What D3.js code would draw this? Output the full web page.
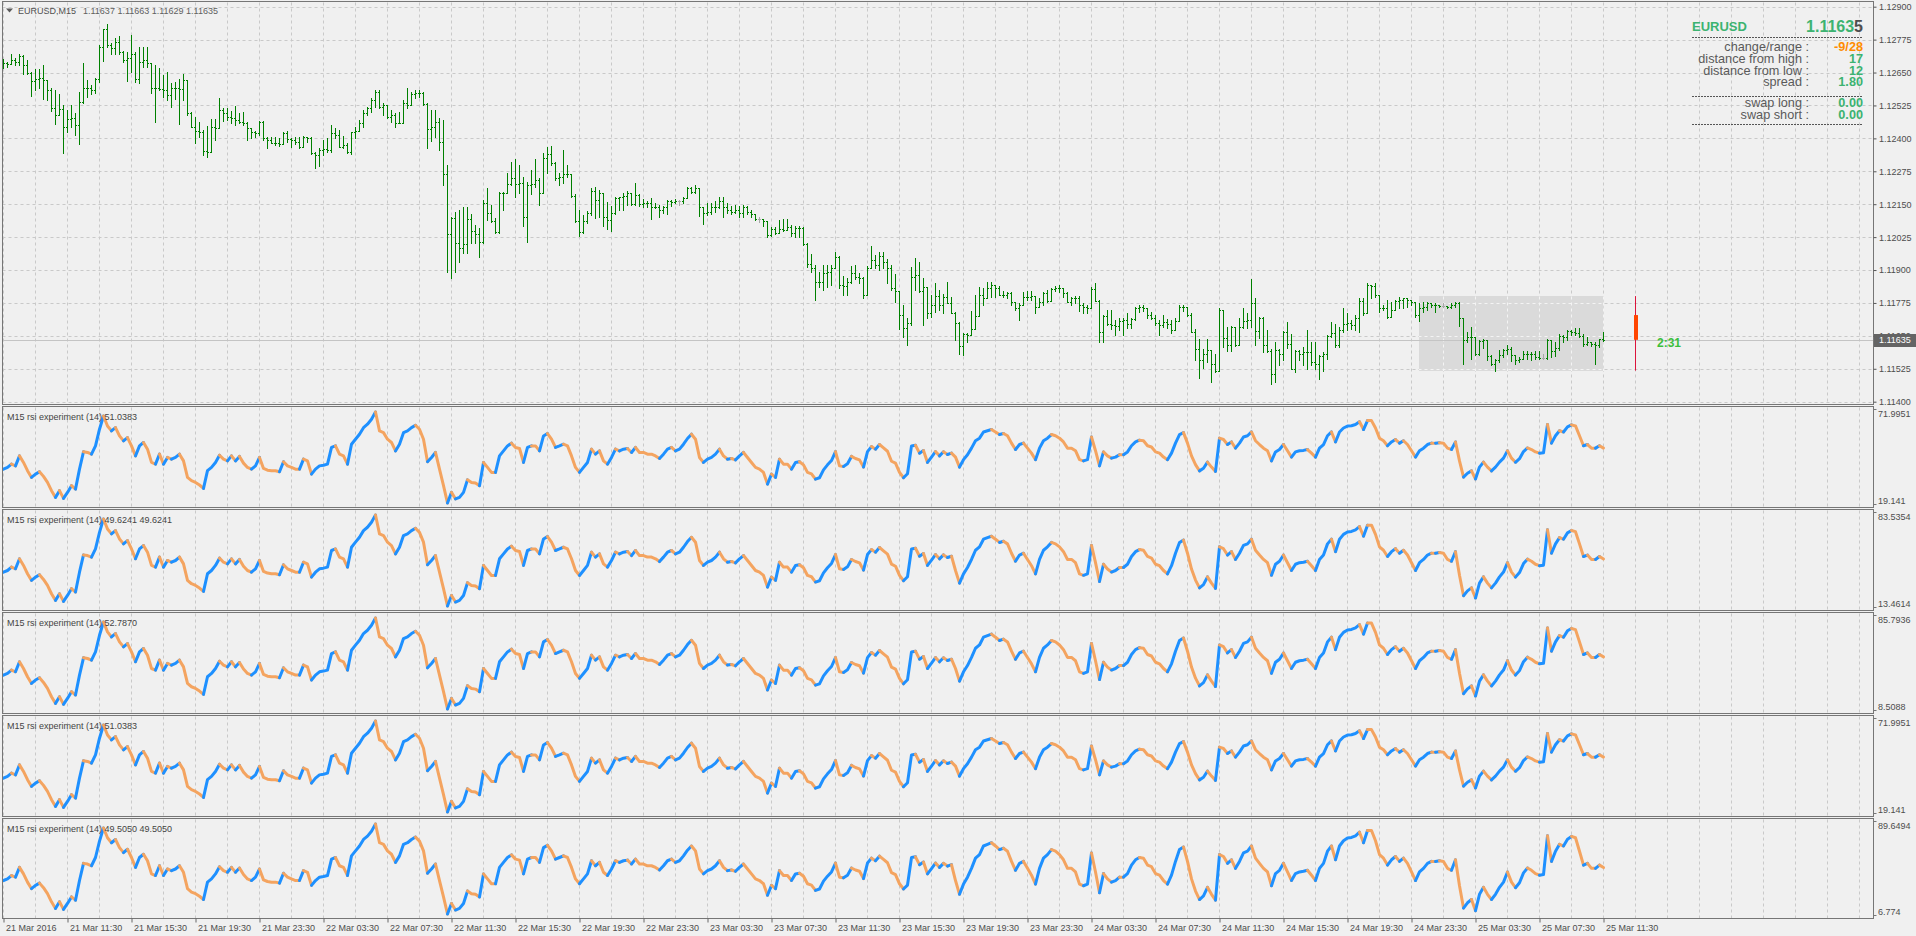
<!DOCTYPE html>
<html><head><meta charset="utf-8">
<script src="https://cdn.jsdelivr.net/npm/d3@7/dist/d3.min.js"></script>
<style>
html,body{margin:0;padding:0;background:#f0f0f0;overflow:hidden}
svg{display:block}
text{font-family:"Liberation Sans",Arial,sans-serif}
</style></head><body>
<svg id="chart" width="1916" height="936"></svg>
<script>
// ---------------- DATA ----------------
const barOpen = [
1.12690,1.12685,1.12682,1.12697,1.12691,1.12712,1.12678,1.12647,1.12619,1.12624,
1.12628,1.12621,1.12583,1.12517,1.12488,1.12510,1.12444,1.12472,1.12479,1.12450,
1.12539,1.12593,1.12590,1.12583,1.12626,1.12748,1.12814,1.12754,1.12745,1.12767,
1.12729,1.12697,1.12704,1.12722,1.12624,1.12691,1.12697,1.12685,1.12593,1.12590,
1.12588,1.12583,1.12564,1.12593,1.12590,1.12586,1.12621,1.12495,1.12444,1.12429,
1.12425,1.12353,1.12350,1.12444,1.12438,1.12507,1.12497,1.12482,1.12476,1.12469,
1.12463,1.12457,1.12438,1.12425,1.12419,1.12463,1.12400,1.12393,1.12383,1.12381,
1.12378,1.12419,1.12396,1.12393,1.12387,1.12368,1.12404,1.12400,1.12343,1.12336,
1.12355,1.12358,1.12355,1.12419,1.12412,1.12368,1.12374,1.12349,1.12425,1.12428,
1.12457,1.12495,1.12514,1.12545,1.12577,1.12520,1.12526,1.12482,1.12488,1.12457,
1.12459,1.12533,1.12526,1.12568,1.12571,1.12573,1.12530,1.12434,1.12442,1.12463,
1.12387,1.12264,1.12036,1.12096,1.12004,1.11982,1.11999,1.12092,1.12048,1.12036,
1.12007,1.12153,1.12115,1.12086,1.12043,1.12191,1.12193,1.12226,1.12248,1.12225,
1.12231,1.12102,1.12223,1.12226,1.12242,1.12193,1.12324,1.12340,1.12305,1.12248,
1.12254,1.12264,1.12263,1.12181,1.12087,1.12045,1.12087,1.12115,1.12201,1.12166,
1.12191,1.12102,1.12090,1.12115,1.12172,1.12176,1.12181,1.12191,1.12150,1.12185,
1.12150,1.12155,1.12153,1.12138,1.12140,1.12128,1.12140,1.12163,1.12159,1.12163,
1.12163,1.12172,1.12210,1.12197,1.12210,1.12138,1.12118,1.12121,1.12140,1.12138,
1.12163,1.12138,1.12128,1.12121,1.12128,1.12118,1.12140,1.12121,1.12112,1.12092,
1.12092,1.12087,1.12033,1.12054,1.12039,1.12054,1.12052,1.12062,1.12039,1.12058,
1.12060,1.11999,1.11923,1.11906,1.11853,1.11856,1.11887,1.11891,1.11909,1.11950,
1.11845,1.11840,1.11853,1.11887,1.11874,1.11868,1.11807,1.11909,1.11938,1.11919,
1.11954,1.11932,1.11909,1.11830,1.11820,1.11731,1.11681,1.11697,1.11875,1.11881,
1.11820,1.11837,1.11735,1.11767,1.11802,1.11769,1.11799,1.11773,1.11737,1.11697,
1.11611,1.11656,1.11653,1.11676,1.11726,1.11805,1.11792,1.11830,1.11843,1.11830,
1.11807,1.11805,1.11811,1.11780,1.11754,1.11767,1.11796,1.11799,1.11802,1.11761,
1.11777,1.11811,1.11782,1.11828,1.11833,1.11830,1.11811,1.11780,1.11792,1.11795,
1.11767,1.11761,1.11757,1.11828,1.11782,1.11666,1.11726,1.11694,1.11691,1.11688,
1.11706,1.11710,1.11694,1.11714,1.11754,1.11761,1.11754,1.11729,1.11716,1.11697,
1.11691,1.11704,1.11694,1.11672,1.11706,1.11761,1.11759,1.11731,1.11666,1.11600,
1.11558,1.11583,1.11596,1.11542,1.11516,1.11748,1.11643,1.11615,1.11685,1.11615,
1.11685,1.11706,1.11709,1.11773,1.11668,1.11719,1.11615,1.11592,1.11504,1.11596,
1.11580,1.11666,1.11621,1.11526,1.11592,1.11580,1.11590,1.11587,1.11552,1.11545,
1.11574,1.11583,1.11650,1.11659,1.11615,1.11672,1.11694,1.11697,1.11692,1.11719,
1.11782,1.11735,1.11843,1.11840,1.11807,1.11757,1.11755,1.11723,1.11748,1.11782,
1.11786,1.11792,1.11786,1.11777,1.11729,1.11754,1.11761,1.11773,1.11769,1.11767,
1.11765,1.11765,1.11761,1.11769,1.11773,1.11716,1.11634,1.11647,1.11644,1.11580,
1.11630,1.11634,1.11575,1.11545,1.11558,1.11577,1.11596,1.11602,1.11577,1.11558,
1.11564,1.11580,1.11583,1.11580,1.11571,1.11567,1.11567,1.11634,1.11592,1.11605,
1.11650,1.11647,1.11668,1.11666,1.11659,1.11650,1.11618,1.11625,1.11621,1.11615,
1.11637];
const barHigh = [
1.12700,1.12691,1.12722,1.12704,1.12720,1.12716,1.12697,1.12653,1.12662,1.12663,
1.12678,1.12621,1.12593,1.12583,1.12567,1.12526,1.12507,1.12526,1.12495,1.12577,
1.12685,1.12621,1.12602,1.12628,1.12754,1.12817,1.12836,1.12763,1.12782,1.12788,
1.12733,1.12729,1.12792,1.12729,1.12748,1.12748,1.12748,1.12685,1.12678,1.12666,
1.12640,1.12653,1.12611,1.12615,1.12624,1.12644,1.12590,1.12501,1.12482,1.12463,
1.12431,1.12447,1.12472,1.12472,1.12552,1.12514,1.12514,1.12505,1.12523,1.12497,
1.12501,1.12463,1.12438,1.12428,1.12467,1.12467,1.12406,1.12404,1.12404,1.12400,
1.12423,1.12429,1.12402,1.12404,1.12406,1.12409,1.12406,1.12404,1.12349,1.12362,
1.12393,1.12400,1.12450,1.12438,1.12431,1.12409,1.12381,1.12425,1.12444,1.12469,
1.12507,1.12520,1.12552,1.12583,1.12583,1.12533,1.12523,1.12507,1.12495,1.12501,
1.12545,1.12590,1.12577,1.12583,1.12583,1.12577,1.12533,1.12507,1.12507,1.12476,
1.12469,1.12298,1.12102,1.12121,1.12128,1.12140,1.12140,1.12112,1.12071,1.12058,
1.12166,1.12210,1.12147,1.12096,1.12197,1.12197,1.12267,1.12311,1.12320,1.12298,
1.12254,1.12235,1.12280,1.12320,1.12248,1.12343,1.12368,1.12371,1.12311,1.12267,
1.12355,1.12298,1.12264,1.12188,1.12128,1.12109,1.12125,1.12210,1.12214,1.12204,
1.12193,1.12159,1.12143,1.12178,1.12178,1.12191,1.12201,1.12193,1.12231,1.12188,
1.12168,1.12163,1.12172,1.12153,1.12147,1.12143,1.12166,1.12166,1.12168,1.12166,
1.12178,1.12216,1.12216,1.12223,1.12197,1.12140,1.12155,1.12153,1.12163,1.12178,
1.12178,1.12153,1.12143,1.12147,1.12143,1.12147,1.12143,1.12128,1.12112,1.12100,
1.12090,1.12087,1.12062,1.12062,1.12090,1.12092,1.12092,1.12071,1.12067,1.12067,
1.12064,1.12001,1.11959,1.11919,1.11894,1.11919,1.11919,1.11919,1.11967,1.11954,
1.11878,1.11868,1.11916,1.11919,1.11887,1.11875,1.11915,1.11992,1.11957,1.11970,
1.11970,1.11942,1.11921,1.11885,1.11767,1.11767,1.11716,1.11913,1.11944,1.11931,
1.11868,1.11837,1.11805,1.11849,1.11824,1.11809,1.11856,1.11799,1.11739,1.11704,
1.11659,1.11659,1.11744,1.11807,1.11837,1.11833,1.11856,1.11856,1.11837,1.11840,
1.11820,1.11818,1.11815,1.11780,1.11773,1.11815,1.11820,1.11820,1.11799,1.11792,
1.11818,1.11824,1.11833,1.11840,1.11843,1.11830,1.11815,1.11799,1.11802,1.11802,
1.11773,1.11767,1.11837,1.11849,1.11786,1.11729,1.11748,1.11748,1.11710,1.11716,
1.11716,1.11735,1.11716,1.11761,1.11767,1.11769,1.11757,1.11739,1.11729,1.11710,
1.11729,1.11714,1.11710,1.11716,1.11767,1.11767,1.11761,1.11735,1.11676,1.11640,
1.11602,1.11640,1.11596,1.11583,1.11754,1.11685,1.11685,1.11688,1.11685,1.11716,
1.11754,1.11735,1.11866,1.11792,1.11723,1.11723,1.11672,1.11602,1.11625,1.11602,
1.11668,1.11701,1.11656,1.11596,1.11596,1.11609,1.11672,1.11628,1.11625,1.11577,
1.11587,1.11653,1.11704,1.11694,1.11685,1.11757,1.11735,1.11710,1.11729,1.11792,
1.11792,1.11849,1.11845,1.11849,1.11805,1.11767,1.11786,1.11777,1.11786,1.11799,
1.11792,1.11792,1.11782,1.11780,1.11773,1.11780,1.11777,1.11773,1.11773,1.11769,
1.11773,1.11764,1.11773,1.11777,1.11777,1.11685,1.11666,1.11685,1.11647,1.11634,
1.11638,1.11634,1.11577,1.11564,1.11596,1.11602,1.11615,1.11609,1.11577,1.11571,
1.11592,1.11592,1.11587,1.11592,1.11592,1.11583,1.11640,1.11634,1.11628,1.11656,
1.11653,1.11672,1.11672,1.11678,1.11681,1.11656,1.11647,1.11628,1.11628,1.11640,
1.11663];
const barLow = [
1.12666,1.12672,1.12681,1.12678,1.12678,1.12644,1.12644,1.12562,1.12583,1.12593,
1.12548,1.12545,1.12505,1.12453,1.12488,1.12343,1.12425,1.12444,1.12412,1.12377,
1.12533,1.12558,1.12568,1.12573,1.12615,1.12693,1.12748,1.12722,1.12722,1.12720,
1.12691,1.12617,1.12653,1.12615,1.12609,1.12672,1.12672,1.12571,1.12463,1.12583,
1.12558,1.12545,1.12520,1.12550,1.12454,1.12545,1.12488,1.12442,1.12381,1.12406,
1.12336,1.12330,1.12374,1.12393,1.12467,1.12467,1.12469,1.12457,1.12450,1.12457,
1.12450,1.12393,1.12400,1.12406,1.12412,1.12393,1.12362,1.12381,1.12374,1.12371,
1.12381,1.12387,1.12368,1.12378,1.12362,1.12387,1.12387,1.12340,1.12286,1.12295,
1.12336,1.12349,1.12349,1.12400,1.12368,1.12362,1.12343,1.12340,1.12402,1.12431,
1.12444,1.12488,1.12501,1.12520,1.12514,1.12488,1.12476,1.12463,1.12444,1.12457,
1.12459,1.12514,1.12533,1.12552,1.12558,1.12526,1.12362,1.12391,1.12406,1.12355,
1.12223,1.11893,1.11868,1.11893,1.11931,1.11963,1.11963,1.12001,1.12001,1.11950,
1.12001,1.12090,1.12083,1.12039,1.12039,1.12128,1.12191,1.12223,1.12178,1.12191,
1.12067,1.12007,1.12188,1.12214,1.12147,1.12191,1.12267,1.12298,1.12242,1.12223,
1.12229,1.12254,1.12178,1.12083,1.12029,1.12042,1.12080,1.12109,1.12096,1.12100,
1.12067,1.12054,1.12049,1.12112,1.12128,1.12128,1.12147,1.12147,1.12147,1.12143,
1.12140,1.12140,1.12092,1.12134,1.12102,1.12118,1.12112,1.12143,1.12155,1.12147,
1.12153,1.12172,1.12191,1.12191,1.12105,1.12074,1.12109,1.12112,1.12121,1.12134,
1.12102,1.12115,1.12112,1.12118,1.12100,1.12102,1.12112,1.12102,1.12090,1.12083,
1.12067,1.12026,1.12029,1.12036,1.12039,1.12049,1.12058,1.12029,1.12026,1.12026,
1.11995,1.11912,1.11891,1.11786,1.11837,1.11824,1.11837,1.11845,1.11909,1.11833,
1.11805,1.11807,1.11849,1.11866,1.11849,1.11795,1.11805,1.11906,1.11906,1.11900,
1.11906,1.11849,1.11824,1.11780,1.11676,1.11647,1.11615,1.11691,1.11824,1.11818,
1.11691,1.11719,1.11723,1.11739,1.11748,1.11735,1.11773,1.11735,1.11634,1.11583,
1.11577,1.11628,1.11668,1.11723,1.11786,1.11767,1.11807,1.11799,1.11799,1.11805,
1.11799,1.11795,1.11767,1.11748,1.11710,1.11773,1.11786,1.11786,1.11735,1.11761,
1.11767,1.11777,1.11782,1.11820,1.11818,1.11799,1.11777,1.11767,1.11773,1.11744,
1.11735,1.11735,1.11754,1.11782,1.11625,1.11625,1.11691,1.11676,1.11653,1.11672,
1.11653,1.11678,1.11678,1.11710,1.11739,1.11744,1.11719,1.11714,1.11691,1.11653,
1.11685,1.11678,1.11659,1.11691,1.11719,1.11744,1.11726,1.11663,1.11558,1.11491,
1.11529,1.11549,1.11476,1.11514,1.11516,1.11609,1.11592,1.11592,1.11613,1.11672,
1.11678,1.11678,1.11685,1.11615,1.11643,1.11587,1.11587,1.11466,1.11473,1.11539,
1.11558,1.11605,1.11526,1.11514,1.11558,1.11539,1.11526,1.11539,1.11526,1.11488,
1.11516,1.11564,1.11647,1.11609,1.11609,1.11666,1.11672,1.11676,1.11672,1.11666,
1.11729,1.11773,1.11792,1.11799,1.11742,1.11748,1.11716,1.11723,1.11748,1.11754,
1.11754,1.11761,1.11767,1.11723,1.11706,1.11742,1.11748,1.11761,1.11739,1.11761,
1.11761,1.11754,1.11757,1.11761,1.11688,1.11545,1.11628,1.11564,1.11577,1.11577,
1.11605,1.11558,1.11539,1.11516,1.11552,1.11571,1.11580,1.11554,1.11545,1.11552,
1.11562,1.11564,1.11558,1.11564,1.11562,1.11564,1.11564,1.11571,1.11575,1.11596,
1.11628,1.11634,1.11653,1.11653,1.11647,1.11613,1.11615,1.11613,1.11545,1.11609,
1.11629];
const barClose = [
1.12685,1.12682,1.12697,1.12691,1.12712,1.12678,1.12647,1.12619,1.12624,1.12628,
1.12621,1.12583,1.12517,1.12488,1.12510,1.12444,1.12472,1.12479,1.12450,1.12539,
1.12593,1.12590,1.12583,1.12626,1.12748,1.12814,1.12754,1.12745,1.12767,1.12729,
1.12697,1.12704,1.12722,1.12624,1.12691,1.12697,1.12685,1.12593,1.12590,1.12588,
1.12583,1.12564,1.12593,1.12590,1.12586,1.12621,1.12495,1.12444,1.12429,1.12425,
1.12353,1.12350,1.12444,1.12438,1.12507,1.12497,1.12482,1.12476,1.12469,1.12463,
1.12457,1.12438,1.12425,1.12419,1.12463,1.12400,1.12393,1.12383,1.12381,1.12378,
1.12419,1.12396,1.12393,1.12387,1.12368,1.12404,1.12400,1.12343,1.12336,1.12355,
1.12358,1.12355,1.12419,1.12412,1.12368,1.12374,1.12349,1.12425,1.12428,1.12457,
1.12495,1.12514,1.12545,1.12577,1.12520,1.12526,1.12482,1.12488,1.12457,1.12459,
1.12533,1.12526,1.12568,1.12571,1.12573,1.12530,1.12434,1.12442,1.12463,1.12387,
1.12264,1.12036,1.12096,1.12004,1.11982,1.11999,1.12092,1.12048,1.12036,1.12007,
1.12153,1.12115,1.12086,1.12043,1.12191,1.12193,1.12226,1.12248,1.12225,1.12231,
1.12102,1.12223,1.12226,1.12242,1.12193,1.12324,1.12340,1.12305,1.12248,1.12254,
1.12264,1.12263,1.12181,1.12087,1.12045,1.12087,1.12115,1.12201,1.12166,1.12191,
1.12102,1.12090,1.12115,1.12172,1.12176,1.12181,1.12191,1.12150,1.12185,1.12150,
1.12155,1.12153,1.12138,1.12140,1.12128,1.12140,1.12163,1.12159,1.12163,1.12163,
1.12172,1.12210,1.12197,1.12210,1.12138,1.12118,1.12121,1.12140,1.12138,1.12163,
1.12138,1.12128,1.12121,1.12128,1.12118,1.12140,1.12121,1.12112,1.12092,1.12092,
1.12087,1.12033,1.12054,1.12039,1.12054,1.12052,1.12062,1.12039,1.12058,1.12060,
1.11999,1.11923,1.11906,1.11853,1.11856,1.11887,1.11891,1.11909,1.11950,1.11845,
1.11840,1.11853,1.11887,1.11874,1.11868,1.11807,1.11909,1.11938,1.11919,1.11954,
1.11932,1.11909,1.11830,1.11820,1.11731,1.11681,1.11697,1.11875,1.11881,1.11820,
1.11837,1.11735,1.11767,1.11802,1.11769,1.11799,1.11773,1.11737,1.11697,1.11611,
1.11656,1.11653,1.11676,1.11726,1.11805,1.11792,1.11830,1.11843,1.11830,1.11807,
1.11805,1.11811,1.11780,1.11754,1.11767,1.11796,1.11799,1.11802,1.11761,1.11777,
1.11811,1.11782,1.11828,1.11833,1.11830,1.11811,1.11780,1.11792,1.11795,1.11767,
1.11761,1.11757,1.11828,1.11782,1.11666,1.11726,1.11694,1.11691,1.11688,1.11706,
1.11710,1.11694,1.11714,1.11754,1.11761,1.11754,1.11729,1.11716,1.11697,1.11691,
1.11704,1.11694,1.11672,1.11706,1.11761,1.11759,1.11731,1.11666,1.11600,1.11558,
1.11583,1.11596,1.11542,1.11516,1.11748,1.11643,1.11615,1.11685,1.11615,1.11685,
1.11706,1.11709,1.11773,1.11668,1.11719,1.11615,1.11592,1.11504,1.11596,1.11580,
1.11666,1.11621,1.11526,1.11592,1.11580,1.11590,1.11587,1.11552,1.11545,1.11574,
1.11583,1.11650,1.11659,1.11615,1.11672,1.11694,1.11697,1.11692,1.11719,1.11782,
1.11735,1.11843,1.11840,1.11807,1.11757,1.11755,1.11723,1.11748,1.11782,1.11786,
1.11792,1.11786,1.11777,1.11729,1.11754,1.11761,1.11773,1.11769,1.11767,1.11765,
1.11765,1.11761,1.11769,1.11773,1.11716,1.11634,1.11647,1.11644,1.11580,1.11630,
1.11634,1.11575,1.11545,1.11558,1.11577,1.11596,1.11602,1.11577,1.11558,1.11564,
1.11580,1.11583,1.11580,1.11571,1.11567,1.11567,1.11634,1.11592,1.11605,1.11650,
1.11647,1.11668,1.11666,1.11659,1.11650,1.11618,1.11625,1.11621,1.11615,1.11638,
1.11635];

// RSI panel 1 (and identical panel 4)
const rsiA = [
38.8,39.8,41.7,40.7,46.5,42.7,37.9,34.0,35.9,37.3,
34.6,31.1,26.3,22.4,26.3,21.8,25.3,29.2,27.2,38.8,
48.9,48.5,47.5,52.3,62.0,69.7,63.9,61.0,62.9,58.1,
55.2,57.1,52.3,46.5,52.3,54.3,50.4,42.7,41.7,47.5,
41.7,45.6,44.6,45.6,47.5,43.6,34.0,32.1,31.1,29.6,
27.6,37.9,39.8,42.7,46.9,44.6,43.6,46.5,43.6,46.2,
42.3,39.8,38.8,40.7,45.6,39.2,38.2,37.9,37.9,37.3,
43.1,40.7,39.8,38.8,38.8,44.6,43.6,35.9,38.8,40.7,
41.1,41.7,51.4,52.3,47.5,46.5,41.7,53.3,56.2,59.1,
62.9,64.9,67.8,71.9951,61.0,60.0,56.2,54.3,49.4,53.3,
60.0,61.0,62.9,64.3,62.0,56.2,43.1,45.6,48.5,38.8,
29.2,19.141,25.3,21.5,22.4,25.3,32.6,31.1,30.7,29.2,
42.7,39.8,36.9,36.9,46.5,49.4,52.3,53.9,51.4,50.8,
42.7,51.4,52.3,52.3,49.4,58.1,59.5,56.2,51.4,52.3,
53.3,52.3,46.5,39.8,36.9,39.8,42.7,50.4,47.5,49.4,
43.6,41.7,45.6,50.4,49.4,50.4,50.8,48.5,51.4,48.5,
48.5,47.5,47.5,46.5,45.0,47.5,50.4,51.4,49.4,50.4,
53.3,56.6,59.1,56.2,45.6,42.7,44.6,45.6,47.5,50.4,
46.5,44.6,45.0,44.2,46.5,48.5,45.6,42.7,39.8,38.8,
36.9,30.1,35.9,34.0,44.6,41.7,41.7,38.8,42.7,43.1,
41.3,36.9,36.1,33.0,33.8,38.4,41.3,43.8,49.0,40.7,
40.4,41.9,46.2,45.0,44.2,40.0,49.0,51.9,50.4,53.1,
51.2,49.2,43.4,42.3,36.9,33.8,36.1,52.3,52.7,48.1,
49.6,42.7,45.8,49.0,46.5,48.9,47.3,48.1,45.8,40.0,
44.3,47.2,51.0,55.3,56.8,60.4,61.1,61.8,60.4,58.9,
59.5,58.2,53.9,50.2,53.1,53.9,51.0,48.1,44.3,51.0,
55.3,56.8,58.9,58.2,56.8,54.6,51.0,51.0,49.5,44.3,
43.6,44.3,57.5,49.5,40.7,48.8,46.5,45.2,45.8,47.2,
47.2,48.8,52.4,54.6,55.6,55.3,52.4,51.7,48.8,48.1,
45.8,44.3,48.1,53.9,58.9,60.0,53.9,46.5,41.4,37.8,
39.3,42.9,40.0,37.5,56.8,56.0,53.1,54.6,51.0,53.9,
57.5,58.2,60.4,55.3,53.1,51.0,49.5,43.6,48.8,50.2,
53.1,49.5,45.8,48.8,49.5,49.7,50.2,48.1,45.8,51.0,
53.1,58.2,60.4,54.6,60.4,62.7,63.8,64.0,64.7,66.3,
61.8,67.0,67.0,62.7,56.8,55.3,52.4,54.6,56.0,53.9,
55.3,53.1,49.5,45.8,49.5,51.0,53.1,53.9,53.9,54.2,
53.9,51.0,50.2,54.6,43.6,34.2,36.4,37.8,33.1,40.0,
42.9,40.0,37.8,40.0,42.9,45.2,49.5,45.2,42.8,44.9,
49.0,51.1,50.2,48.8,48.1,48.3,64.7,53.9,58.2,61.1,
60.4,63.4,64.5,63.9,58.2,52.4,53.1,51.0,51.0,52.4,
51.0383];
const rsiB = [
39.5,40.8,43.4,42.1,49.8,44.7,38.3,33.2,35.7,37.5,
33.9,29.3,22.9,17.8,22.9,17.0,21.6,26.8,24.2,39.5,
52.8,52.3,51.1,57.4,70.2,80.5,72.8,69.0,71.5,65.1,
61.3,63.8,57.4,49.8,57.4,60.0,54.9,44.7,43.4,51.1,
43.4,48.5,47.2,48.5,51.1,45.9,33.2,30.6,29.3,27.3,
24.7,38.3,40.8,44.7,50.3,47.2,45.9,49.8,45.9,49.3,
44.1,40.8,39.5,42.1,48.5,40.1,38.8,38.3,38.3,37.5,
45.2,42.1,40.8,39.5,39.5,47.2,45.9,35.7,39.5,42.1,
42.6,43.4,56.2,57.4,51.1,49.8,43.4,58.7,62.6,66.4,
71.5,74.1,77.9,83.5354,69.0,67.7,62.6,60.0,53.6,58.7,
67.7,69.0,71.5,73.3,70.2,62.6,45.2,48.5,52.3,39.5,
26.8,13.4614,21.6,16.5,17.8,21.6,31.4,29.3,28.8,26.8,
44.7,40.8,37.0,37.0,49.8,53.6,57.4,59.5,56.2,55.4,
44.7,56.2,57.4,57.4,53.6,65.1,66.9,62.6,56.2,57.4,
58.7,57.4,49.8,40.8,37.0,40.8,44.7,54.9,51.1,53.6,
45.9,43.4,48.5,54.9,53.6,54.9,55.4,52.3,56.2,52.3,
52.3,51.1,51.1,49.8,47.7,51.1,54.9,56.2,53.6,54.9,
58.7,63.1,66.4,62.6,48.5,44.7,47.2,48.5,51.1,54.9,
49.8,47.2,47.7,46.7,49.8,52.3,48.5,44.7,40.8,39.5,
37.0,28.0,35.7,33.2,47.2,43.4,43.4,39.5,44.7,45.2,
42.9,37.0,36.0,31.9,32.9,39.0,42.9,46.2,53.1,42.1,
41.6,43.6,49.3,47.7,46.7,41.1,53.1,56.9,54.9,58.5,
55.9,53.4,45.7,44.1,37.0,32.9,36.0,57.4,57.9,51.8,
53.9,44.7,48.8,53.1,49.8,52.8,50.8,51.8,40.8,31.1,
38.2,43.1,49.3,56.4,59.0,64.9,66.1,67.2,64.9,62.4,
63.3,61.3,54.1,47.9,52.7,54.1,49.3,44.5,38.2,49.3,
56.4,59.0,62.4,61.3,59.0,55.3,49.3,49.3,46.8,38.2,
37.1,38.2,60.1,46.8,32.3,45.6,41.9,39.6,40.8,43.1,
43.1,45.6,51.6,55.3,56.9,56.4,51.6,50.4,45.6,44.5,
40.8,38.2,44.5,54.1,62.4,64.2,54.1,41.9,33.4,27.4,
30.0,35.9,31.1,27.0,59.0,57.6,52.7,55.3,49.3,54.1,
60.1,61.3,64.9,56.4,52.7,49.3,46.8,37.1,45.6,47.9,
52.7,46.8,40.8,45.6,46.8,47.2,47.9,44.5,40.8,49.3,
52.7,61.3,64.9,55.3,64.9,68.6,70.5,70.9,72.1,74.6,
67.2,75.7,75.7,68.6,59.0,56.4,51.6,55.3,57.6,54.1,
56.4,52.7,46.8,40.8,46.8,49.3,52.7,54.1,54.1,54.6,
54.1,49.3,47.9,55.3,37.1,21.4,25.1,27.4,19.6,31.1,
35.9,31.1,27.4,31.1,35.9,39.6,46.8,39.6,35.7,39.2,
46.1,49.5,47.9,45.6,44.5,44.9,72.1,54.1,61.3,66.1,
64.9,69.8,71.6,70.7,61.3,51.6,52.7,49.3,49.3,51.6,
49.6241];
const rsiC = [
37.3,38.7,41.5,40.1,48.6,42.9,35.9,30.2,33.1,35.0,
31.1,26.0,18.9,13.3,18.9,12.5,17.5,23.2,20.4,37.3,
52.0,51.4,50.0,57.0,71.1,82.4,74.0,69.7,72.6,65.5,
61.3,64.1,57.0,48.6,57.0,59.9,54.2,42.9,41.5,50.0,
41.5,47.2,45.8,47.2,50.0,44.3,30.2,27.4,26.0,23.7,
20.9,35.9,38.7,42.9,49.1,45.8,44.3,48.6,44.3,48.0,
42.4,38.7,37.3,40.1,47.2,37.9,36.4,35.9,35.9,35.0,
43.5,40.1,38.7,37.3,37.3,45.8,44.3,33.1,37.3,40.1,
40.7,41.5,55.6,57.0,50.0,48.6,41.5,58.4,62.7,66.9,
72.6,75.4,79.6,85.7936,69.7,68.3,62.7,59.9,52.8,58.4,
68.3,69.7,72.6,74.5,71.1,62.7,43.5,47.2,51.4,37.3,
23.2,8.5088,17.5,11.9,13.3,17.5,28.3,26.0,25.4,23.2,
42.9,38.7,34.5,34.5,48.6,52.8,57.0,59.3,55.6,54.8,
42.9,55.6,57.0,57.0,52.8,65.5,67.5,62.7,55.6,57.0,
58.4,57.0,48.6,38.7,34.5,38.7,42.9,54.2,50.0,52.8,
44.3,41.5,47.2,54.2,52.8,54.2,54.8,51.4,55.6,51.4,
51.4,50.0,50.0,48.6,46.3,50.0,54.2,55.6,52.8,54.2,
58.4,63.2,66.9,62.7,47.2,42.9,45.8,47.2,50.0,54.2,
48.6,45.8,46.3,45.2,48.6,51.4,47.2,42.9,38.7,37.3,
34.5,24.6,33.1,30.2,45.8,41.5,41.5,37.3,42.9,43.5,
41.0,34.5,33.3,28.8,29.9,36.7,41.0,44.6,52.2,40.1,
39.5,41.8,48.0,46.3,45.2,39.0,52.2,56.5,54.2,58.2,
55.3,52.5,44.1,42.4,34.5,29.9,33.3,57.0,57.6,50.8,
53.1,42.9,47.4,52.2,48.6,52.0,49.7,50.8,42.9,32.2,
40.1,45.4,52.3,60.1,62.9,69.5,70.8,72.1,69.5,66.7,
67.8,65.5,57.6,50.7,56.1,57.6,52.3,46.9,40.1,52.3,
60.1,62.9,66.7,65.5,62.9,58.9,52.3,52.3,49.5,40.1,
38.8,40.1,64.2,49.5,33.5,48.2,44.1,41.6,42.9,45.4,
45.4,48.2,54.8,58.9,60.6,60.1,54.8,53.5,48.2,46.9,
42.9,40.1,46.9,57.6,66.7,68.8,57.6,44.1,34.7,28.1,
30.9,37.5,32.2,27.6,62.9,61.4,56.1,58.9,52.3,57.6,
64.2,65.5,69.5,60.1,56.1,52.3,49.5,38.8,48.2,50.7,
56.1,49.5,42.9,48.2,49.5,50.0,50.7,46.9,42.9,52.3,
56.1,65.5,69.5,58.9,69.5,73.6,75.6,76.1,77.4,80.2,
72.1,81.5,81.5,73.6,62.9,60.1,54.8,58.9,61.4,57.6,
60.1,56.1,49.5,42.9,49.5,52.3,56.1,57.6,57.6,58.1,
57.6,52.3,50.7,58.9,38.8,21.5,25.6,28.1,19.5,32.2,
37.5,32.2,28.1,32.2,37.5,41.6,49.5,41.6,37.3,41.1,
48.7,52.5,50.7,48.2,46.9,47.4,77.4,57.6,65.5,70.8,
69.5,74.9,76.9,75.9,65.5,54.8,56.1,52.3,52.3,54.8,
52.7870];
const rsiE = [
37.6,39.1,42.2,40.7,49.7,43.7,36.1,30.1,33.1,35.2,
31.0,25.5,18.0,11.9,18.0,11.0,16.5,22.5,19.5,37.6,
53.4,52.8,51.2,58.8,73.9,86.0,77.0,72.4,75.4,67.9,
63.3,66.4,58.8,49.7,58.8,61.8,55.8,43.7,42.2,51.2,
42.2,48.2,46.7,48.2,51.2,45.2,30.1,27.0,25.5,23.1,
20.1,36.1,39.1,43.7,50.3,46.7,45.2,49.7,45.2,49.1,
43.1,39.1,37.6,40.7,48.2,38.2,36.7,36.1,36.1,35.2,
44.3,40.7,39.1,37.6,37.6,46.7,45.2,33.1,37.6,40.7,
41.3,42.2,57.3,58.8,51.2,49.7,42.2,60.3,64.9,69.4,
75.4,78.5,83.0,89.6494,72.4,70.9,64.9,61.8,54.3,60.3,
70.9,72.4,75.4,77.6,73.9,64.9,44.3,48.2,52.8,37.6,
22.5,6.774,16.5,10.4,11.9,16.5,28.0,25.5,24.9,22.5,
43.7,39.1,34.6,34.6,49.7,54.3,58.8,61.2,57.3,56.4,
43.7,57.3,58.8,58.8,54.3,67.9,70.0,64.9,57.3,58.8,
60.3,58.8,49.7,39.1,34.6,39.1,43.7,55.8,51.2,54.3,
45.2,42.2,48.2,55.8,54.3,55.8,56.4,52.8,57.3,52.8,
52.8,51.2,51.2,49.7,47.3,51.2,55.8,57.3,54.3,55.8,
60.3,65.5,69.4,64.9,48.2,43.7,46.7,48.2,51.2,55.8,
49.7,46.7,47.3,46.1,49.7,52.8,48.2,43.7,39.1,37.6,
34.6,24.0,33.1,30.1,46.7,42.2,42.2,37.6,43.7,44.3,
41.6,34.6,33.4,28.5,29.8,37.0,41.6,45.5,53.7,40.7,
40.1,42.5,49.1,47.3,46.1,39.4,53.7,58.2,55.8,60.0,
57.0,54.0,44.9,43.1,34.6,29.8,33.4,58.8,59.4,52.2,
54.6,43.7,48.5,53.7,49.7,53.4,50.9,52.2,37.6,24.9,
34.3,40.7,48.8,58.2,61.5,69.4,70.9,72.4,69.4,66.1,
67.3,64.6,55.2,47.0,53.4,55.2,48.8,42.5,34.3,48.8,
58.2,61.5,66.1,64.6,61.5,56.7,48.8,48.8,45.5,34.3,
32.8,34.3,63.0,45.5,26.4,44.0,39.1,36.1,37.6,40.7,
40.7,44.0,51.8,56.7,58.8,58.2,51.8,50.3,44.0,42.5,
37.6,34.3,42.5,55.2,66.1,68.5,55.2,39.1,27.9,20.1,
23.4,31.3,24.9,19.5,61.5,59.7,53.4,56.7,48.8,55.2,
63.0,64.6,69.4,58.2,53.4,48.8,45.5,32.8,44.0,47.0,
53.4,45.5,37.6,44.0,45.5,46.1,47.0,42.5,37.6,48.8,
53.4,64.6,69.4,56.7,69.4,74.2,76.7,77.3,78.8,82.1,
72.4,83.6,83.6,74.2,61.5,58.2,51.8,56.7,59.7,55.2,
58.2,53.4,45.5,37.6,45.5,48.8,53.4,55.2,55.2,55.8,
55.2,48.8,47.0,56.7,32.8,12.2,17.1,20.1,9.8,24.9,
31.3,24.9,20.1,24.9,31.3,36.1,45.5,36.1,31.0,35.5,
44.6,49.1,47.0,44.0,42.5,43.1,78.8,55.2,64.6,70.9,
69.4,75.7,78.2,77.0,64.6,51.8,53.4,48.8,48.8,51.8,
49.5050];

const priceTicks = [1.12900,1.12775,1.12650,1.12525,1.12400,1.12275,1.12150,1.12025,1.11900,1.11775,1.11650,1.11525,1.11400];
const timeLabels = ["21 Mar 2016","21 Mar 11:30","21 Mar 15:30","21 Mar 19:30","21 Mar 23:30","22 Mar 03:30","22 Mar 07:30","22 Mar 11:30","22 Mar 15:30","22 Mar 19:30","22 Mar 23:30","23 Mar 03:30","23 Mar 07:30","23 Mar 11:30","23 Mar 15:30","23 Mar 19:30","23 Mar 23:30","24 Mar 03:30","24 Mar 07:30","24 Mar 11:30","24 Mar 15:30","24 Mar 19:30","24 Mar 23:30","25 Mar 03:30","25 Mar 07:30","25 Mar 11:30"];
const timeLabelBars = [0,16,32,48,64,80,96,112,128,144,160,176,192,208,224,240,256,272,288,304,320,336,352,368,384,400];
const rsiNames = ["M15 rsi experiment (14) 51.0383","M15 rsi experiment (14) 49.6241 49.6241","M15 rsi experiment (14) 52.7870","M15 rsi experiment (14) 51.0383","M15 rsi experiment (14) 49.5050 49.5050"];
const rsiMaxLabels = ["71.9951","83.5354","85.7936","71.9951","89.6494"];
const rsiMinLabels = ["19.141","13.4614","8.5088","19.141","6.774"];
const rsiMax = [71.9951,83.5354,85.7936,71.9951,89.6494];
const rsiMin = [19.141,13.4614,8.5088,19.141,6.774];
const symbolName = "EURUSD";
const lastPrice = 1.11635;
const infoLabels = ["change/range :","distance from high :","distance from low :","spread :"];
const infoValues = ["-9/28","17","12","1.80"];
const swapLabels = ["swap long :","swap short :"];
const swapValues = ["0.00","0.00"];
const dayHigh = 1.11801, dayLow = 1.11518, dayOpen = 1.11729;
const dayStartBar = 354, lastBar = 400, rangeBarPos = 408;
const timerText = "2:31";
const titleSym = "EURUSD,M15";
const titleOHLC = "1.11637 1.11663 1.11629 1.11635";

// ---------------- DRAW ----------------
const svg = d3.select('#chart');
const W = 1916, H = 936, L = 2.5, R = 1873.5;
const FONT = '"Liberation Sans",Arial,sans-serif';
const x = d3.scaleLinear().domain([0, 400]).range([3, 1603]);
const xc = i => x(i) + 0.5;
const yP = d3.scaleLinear().domain([1.114, 1.129]).range([401.7, 6.7]);
const panels = [{t:1.5,b:404.5},{t:406.5,b:507.5},{t:509.5,b:610.5},{t:612.5,b:713.5},{t:715.5,b:816.5},{t:818.5,b:918.5}];
const gridC = '#c9c9c9', dash = '3,3';
const rp = v => Math.round(v) + 0.5;

svg.append('rect').attr('width', W).attr('height', H).attr('fill', '#f0f0f0');

const gridX = d3.range(0, 59).map(k => 3.5 + 32 * k);
function drawGrid(g, color, p, withH) {
  g.append('g').selectAll('line').data(gridX).join('line')
    .attr('x1', d => d).attr('x2', d => d).attr('y1', p.t + 1).attr('y2', p.b)
    .attr('stroke', color).attr('stroke-dasharray', dash);
  if (withH) {
    g.append('g').selectAll('line').data(priceTicks).join('line')
      .attr('x1', L).attr('x2', R).attr('y1', d => rp(yP(d))).attr('y2', d => rp(yP(d)))
      .attr('stroke', color).attr('stroke-dasharray', dash);
  }
}
panels.forEach((p, i) => drawGrid(svg, gridC, p, i === 0));

// day range box
const defs = svg.append('defs');
const bx0 = x(dayStartBar), bx1 = x(lastBar) + 1;
const by0 = Math.round(yP(dayHigh)), by1 = Math.round(yP(dayLow));
svg.append('rect').attr('x', bx0).attr('y', by0).attr('width', bx1 - bx0).attr('height', by1 - by0).attr('fill', '#dadada');
defs.append('clipPath').attr('id', 'boxclip').append('rect').attr('x', bx0).attr('y', by0).attr('width', bx1 - bx0).attr('height', by1 - by0);
drawGrid(svg.append('g').attr('clip-path', 'url(#boxclip)'), '#f4f4f4', panels[0], true);

// current price line
svg.append('line').attr('x1', L).attr('x2', R).attr('y1', rp(yP(lastPrice))).attr('y2', rp(yP(lastPrice)))
  .attr('stroke', '#c4c4c4');

// bars
const bars = d3.range(401).map(i => ({i, o: barOpen[i], h: barHigh[i], l: barLow[i], c: barClose[i]}));
const colOf = d => d.o === d.c ? '#a8a8a8' : '#008000';
const gb = svg.append('g').attr('shape-rendering', 'crispEdges');
gb.selectAll('rect.v').data(bars).join('rect').attr('class', 'v')
  .attr('x', d => x(d.i))
  .attr('y', d => Math.round(yP(Math.max(d.h, d.o, d.c))))
  .attr('width', 1)
  .attr('height', d => Math.round(yP(Math.min(d.l, d.o, d.c))) - Math.round(yP(Math.max(d.h, d.o, d.c))) + 1)
  .attr('fill', colOf);
gb.selectAll('rect.o').data(bars).join('rect').attr('class', 'o')
  .attr('x', d => x(d.i) - 1).attr('y', d => Math.round(yP(d.o))).attr('width', 1).attr('height', 1).attr('fill', colOf);
gb.selectAll('rect.c').data(bars).join('rect').attr('class', 'c')
  .attr('x', d => x(d.i) + 1).attr('y', d => Math.round(yP(d.c))).attr('width', 1).attr('height', 1).attr('fill', colOf);

// range marker (red line + body) and timer
const rx = x(rangeBarPos);
svg.append('line').attr('x1', rx + 0.5).attr('x2', rx + 0.5).attr('y1', yP(dayHigh)).attr('y2', yP(dayLow)).attr('stroke', '#dc143c');
svg.append('rect').attr('x', rx - 1).attr('width', 4).attr('y', yP(dayOpen)).attr('height', yP(lastPrice) - yP(dayOpen)).attr('fill', '#ff4500');
svg.append('text').attr('x', 1657).attr('y', 346.5).attr('font-size', 12).attr('font-weight', 'bold')
  .attr('fill', '#3cbf3c').text(timerText);

// RSI panels
const rsiSets = [rsiA, rsiB, rsiC, rsiA, rsiE];
rsiSets.forEach((arr, k) => {
  const p = panels[k + 1];
  const y = d3.scaleLinear().domain([rsiMin[k], rsiMax[k]]).range([p.b - 4.5, p.t + 5.5]);
  defs.append('clipPath').attr('id', 'pc' + k).append('rect')
    .attr('x', L + 0.5).attr('y', p.t + 0.5).attr('width', R - L - 1).attr('height', p.b - p.t - 1);
  const runs = [];
  let cur = null;
  for (let i = 1; i < arr.length; i++) {
    const up = arr[i] > arr[i - 1];
    if (!cur || cur.up !== up) { cur = {up, pts: [[xc(i - 1), y(arr[i - 1])]]}; runs.push(cur); }
    cur.pts.push([xc(i), y(arr[i])]);
  }
  const line = d3.line();
  svg.append('g').attr('clip-path', 'url(#pc' + k + ')').selectAll('path').data(runs).join('path')
    .attr('d', r => line(r.pts)).attr('fill', 'none')
    .attr('stroke', r => r.up ? '#1e90ff' : '#f4a460').attr('stroke-width', 3)
    .attr('stroke-linejoin', 'round').attr('stroke-linecap', 'round');
  svg.append('text').attr('x', 7).attr('y', p.t + 13.5).attr('font-size', 9).attr('fill', '#444').text(rsiNames[k]);
  svg.append('text').attr('x', 1878).attr('y', p.t + 7).attr('dy', '0.35em').attr('font-size', 9).attr('fill', '#4d4d4d').text(rsiMaxLabels[k]);
  svg.append('text').attr('x', 1878).attr('y', p.b - 7).attr('dy', '0.35em').attr('font-size', 9).attr('fill', '#4d4d4d').text(rsiMinLabels[k]);
  svg.append('line').attr('x1', R).attr('x2', R + 3).attr('y1', p.t + 3).attr('y2', p.t + 3).attr('stroke', '#777');
  svg.append('line').attr('x1', R).attr('x2', R + 3).attr('y1', p.b - 3).attr('y2', p.b - 3).attr('stroke', '#777');
});

// panel borders
svg.append('g').selectAll('rect').data(panels).join('rect')
  .attr('x', L).attr('y', d => d.t).attr('width', R - L).attr('height', d => d.b - d.t)
  .attr('fill', 'none').attr('stroke', '#767676');

// price axis
const pAxis = d3.axisRight(yP).tickValues(priceTicks).tickFormat(d3.format('.5f')).tickSize(3).tickPadding(2.5);
const gp = svg.append('g').attr('transform', `translate(${R},0)`).call(pAxis);
gp.select('.domain').remove();
gp.attr('font-family', FONT).attr('font-size', 9).attr('color', '#555');
gp.selectAll('text').attr('fill', '#4d4d4d');

// current price label on axis
const ly = yP(lastPrice);
svg.append('rect').attr('x', R + 0.5).attr('y', Math.round(ly) - 6).attr('width', W - R).attr('height', 13).attr('fill', '#646464');
svg.append('text').attr('x', 1879).attr('y', ly).attr('dy', '0.35em').attr('font-size', 9).attr('fill', '#ffffff').text(d3.format('.5f')(lastPrice));

// time axis
const xa = d3.scaleLinear().domain([0, 400]).range([3.5, 1603.5]);
const tAxis = d3.axisBottom(xa).tickValues(timeLabelBars).tickFormat((d, i) => timeLabels[i]).tickSize(4);
const gt = svg.append('g').attr('transform', 'translate(0,918.5)').call(tAxis);
gt.select('.domain').remove();
gt.attr('font-family', FONT).attr('font-size', 9).attr('color', '#666');
gt.selectAll('text').attr('text-anchor', 'start').attr('x', 2).attr('y', 6).attr('dy', '0.71em').attr('fill', '#4d4d4d');

// title
svg.append('path').attr('d', 'M6,8.5 L13,8.5 L9.5,12.5 Z').attr('fill', '#5a5a5a');
const tt = svg.append('text').attr('x', 18).attr('y', 14).attr('font-size', 9);
tt.append('tspan').attr('fill', '#505050').text(titleSym);
tt.append('tspan').attr('dx', 7).attr('fill', '#5f5f5f').text(titleOHLC);

// info panel
const info = svg.append('g');
info.append('text').attr('x', 1692).attr('y', 31).attr('font-size', 13).attr('font-weight', 'bold').attr('fill', '#3cb371').text(symbolName);
const pt = info.append('text').attr('x', 1863).attr('y', 31.5).attr('text-anchor', 'end').attr('font-size', 16).attr('font-weight', 'bold');
const ps = d3.format('.5f')(lastPrice);
pt.append('tspan').attr('fill', '#3cb371').text(ps.slice(0, -1));
pt.append('tspan').attr('fill', '#4d4d4d').text(ps.slice(-1));
[37.5, 96.5, 124.5].forEach(yy => info.append('line').attr('x1', 1692).attr('x2', 1863).attr('y1', yy).attr('y2', yy)
  .attr('stroke', '#555').attr('stroke-dasharray', '2,1'));
const rowsY = [46.7, 58.7, 70.3, 82];
infoLabels.forEach((t, i) => {
  info.append('text').attr('x', 1809).attr('y', rowsY[i]).attr('dy', '0.35em').attr('text-anchor', 'end').attr('font-size', 12.7).attr('fill', '#5a5a5a').text(t);
  info.append('text').attr('x', 1863).attr('y', rowsY[i]).attr('dy', '0.35em').attr('text-anchor', 'end').attr('font-size', 12.7).attr('font-weight', 'bold')
    .attr('fill', i === 0 ? '#ff8c00' : '#3cb371').text(infoValues[i]);
});
const swapY = [102.7, 114.7];
swapLabels.forEach((t, i) => {
  info.append('text').attr('x', 1809).attr('y', swapY[i]).attr('dy', '0.35em').attr('text-anchor', 'end').attr('font-size', 12.7).attr('fill', '#5a5a5a').text(t);
  info.append('text').attr('x', 1863).attr('y', swapY[i]).attr('dy', '0.35em').attr('text-anchor', 'end').attr('font-size', 12.7).attr('font-weight', 'bold')
    .attr('fill', '#3cb371').text(swapValues[i]);
});
</script>
</body></html>
